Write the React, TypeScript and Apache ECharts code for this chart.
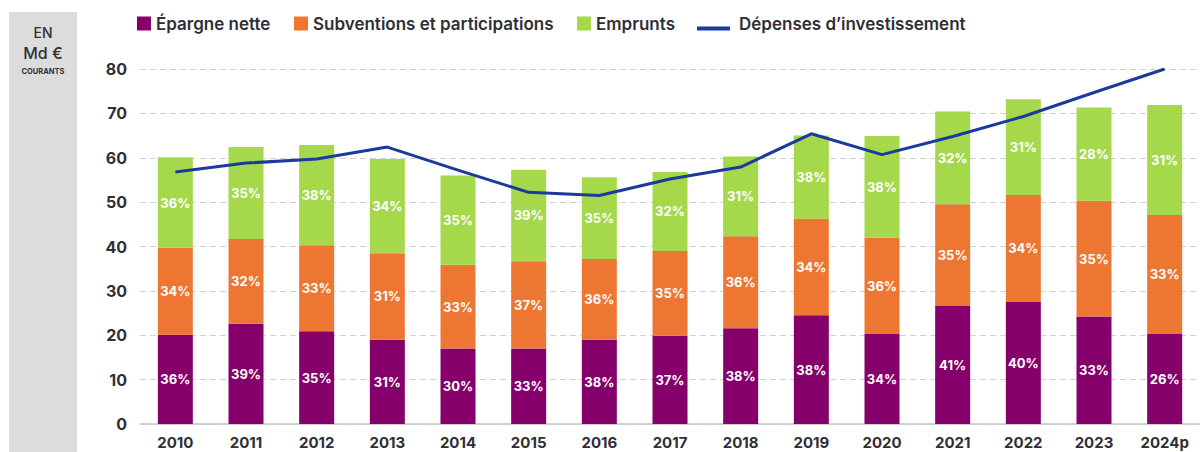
import React, { useEffect, useRef } from "react";
import * as echarts from "echarts";

const years = ["2010", "2011", "2012", "2013", "2014", "2015", "2016", "2017", "2018", "2019", "2020", "2021", "2022", "2023", "2024p"];
const epargne = [20.1, 22.6, 20.9, 19.0, 17.0, 17.0, 19.0, 19.9, 21.6, 24.5, 20.3, 26.6, 27.5, 24.2, 20.3];
const subventions = [19.6, 19.1, 19.4, 19.5, 18.9, 19.7, 18.2, 19.1, 20.7, 21.8, 21.7, 22.9, 24.1, 26.1, 26.8];
const emprunts = [20.4, 20.7, 22.6, 21.2, 20.1, 20.6, 18.4, 17.8, 18.0, 18.7, 22.9, 20.9, 21.6, 21.0, 24.8];
const depenses = [56.8, 58.8, 59.7, 62.4, 57.2, 52.2, 51.5, 55.2, 57.9, 65.4, 60.7, 64.8, 69.3, 74.7, 80.0];
const epargnePct = ["36%", "39%", "35%", "31%", "30%", "33%", "38%", "37%", "38%", "38%", "34%", "41%", "40%", "33%", "26%"];
const subventionsPct = ["34%", "32%", "33%", "31%", "33%", "37%", "36%", "35%", "36%", "34%", "36%", "35%", "34%", "35%", "33%"];
const empruntsPct = ["36%", "35%", "38%", "34%", "35%", "39%", "35%", "32%", "31%", "38%", "38%", "32%", "31%", "28%", "31%"];
const yTicks = { min: 0, max: 80, interval: 10 };

const FONT = "Inter, 'Open Sans', sans-serif";
const TEXT = "#2f2f35";
const C_EP = "#85006b";
const C_SUB = "#ee7633";
const C_EMP = "#a6d84b";
const C_LINE = "#1b3a9e";

export default function App() {
  const ref = useRef<HTMLDivElement>(null);
  useEffect(() => {
    if (!ref.current) return;
    const chart = echarts.init(ref.current, null, { renderer: "svg" });
    const labelFor = (pcts: string[]) => ({
      show: true,
      position: "inside" as const,
      color: "#ffffff",
      fontFamily: FONT,
      fontWeight: "bold" as const,
      fontSize: 13,
      formatter: (p: any) => pcts[p.dataIndex],
    });
    const barBase = {
      type: "bar" as const,
      stack: "total",
      barWidth: 35,
    };
    const legendText = { fontFamily: FONT, fontSize: 17, fontWeight: 600, color: TEXT };
    const sqLegend = (name: string, left: number) => ({
      data: [name],
      left,
      top: 15,
      padding: 0,
      itemWidth: 14,
      itemHeight: 14,
      icon: "rect",
      textStyle: legendText,
    });
    chart.setOption({
      animation: false,
      textStyle: { fontFamily: FONT },
      grid: { left: 140, right: -6, top: 69, bottom: 28, containLabel: false },
      legend: [
        sqLegend("Épargne nette", 137),
        sqLegend("Subventions et participations", 294),
        sqLegend("Emprunts", 577),
        {
          data: [{ name: "Dépenses d’investissement", icon: "path://M0,0 L0.01,0 L0,0.01 Z M0,10 L33,10 L33,14 L0,14 Z", itemStyle: { color: C_LINE } }],
          left: 697,
          top: 15,
          padding: 0,
          itemWidth: 33,
          itemHeight: 14,
          textStyle: { ...legendText, padding: [0, 0, 0, 4] },
        },
      ],
      graphic: [
        { type: "rect", left: 9, top: 12, shape: { width: 68, height: 440 }, style: { fill: "#dcdcdd" }, z: 0 },
        { type: "text", x: 43, y: 32, style: { text: "EN", fill: TEXT, font: `500 14px ${FONT}`, align: "center", verticalAlign: "middle" } },
        { type: "text", x: 43, y: 53, style: { text: "Md €", fill: TEXT, font: `500 16px ${FONT}`, align: "center", verticalAlign: "middle" } },
        { type: "text", x: 43, y: 71, style: { text: "COURANTS", fill: TEXT, font: `bold 7.5px ${FONT}`, align: "center", verticalAlign: "middle" } },
      ],
      xAxis: {
        type: "category",
        data: years,
        axisLine: { lineStyle: { color: "#c4c4c4", width: 1.5 } },
        axisTick: { show: false },
        axisLabel: { color: TEXT, fontFamily: FONT, fontWeight: "bold", fontSize: 15, margin: 11 },
      },
      yAxis: {
        type: "value",
        min: yTicks.min,
        max: yTicks.max,
        interval: yTicks.interval,
        axisLine: { show: false },
        axisTick: { show: false },
        axisLabel: { color: TEXT, fontFamily: FONT, fontWeight: "bold", fontSize: 16, margin: 13 },
        splitLine: { lineStyle: { color: "#d2d2d2", type: [6, 4], width: 1 } },
      },
      series: [
        { ...barBase, name: "Épargne nette", data: epargne, itemStyle: { color: C_EP }, label: labelFor(epargnePct) },
        { ...barBase, name: "Subventions et participations", data: subventions, itemStyle: { color: C_SUB }, label: labelFor(subventionsPct) },
        { ...barBase, name: "Emprunts", data: emprunts, itemStyle: { color: C_EMP }, label: labelFor(empruntsPct) },
        {
          type: "line",
          name: "Dépenses d’investissement",
          data: depenses,
          symbol: "none",
          showSymbol: false,
          lineStyle: { color: C_LINE, width: 3 },
          itemStyle: { color: C_LINE },
          z: 5,
        },
      ],
    });
    return () => chart.dispose();
  }, []);
  return <div ref={ref} style={{ position: "absolute", left: 0, top: 0, width: 1200, height: 452 }} />;
}
